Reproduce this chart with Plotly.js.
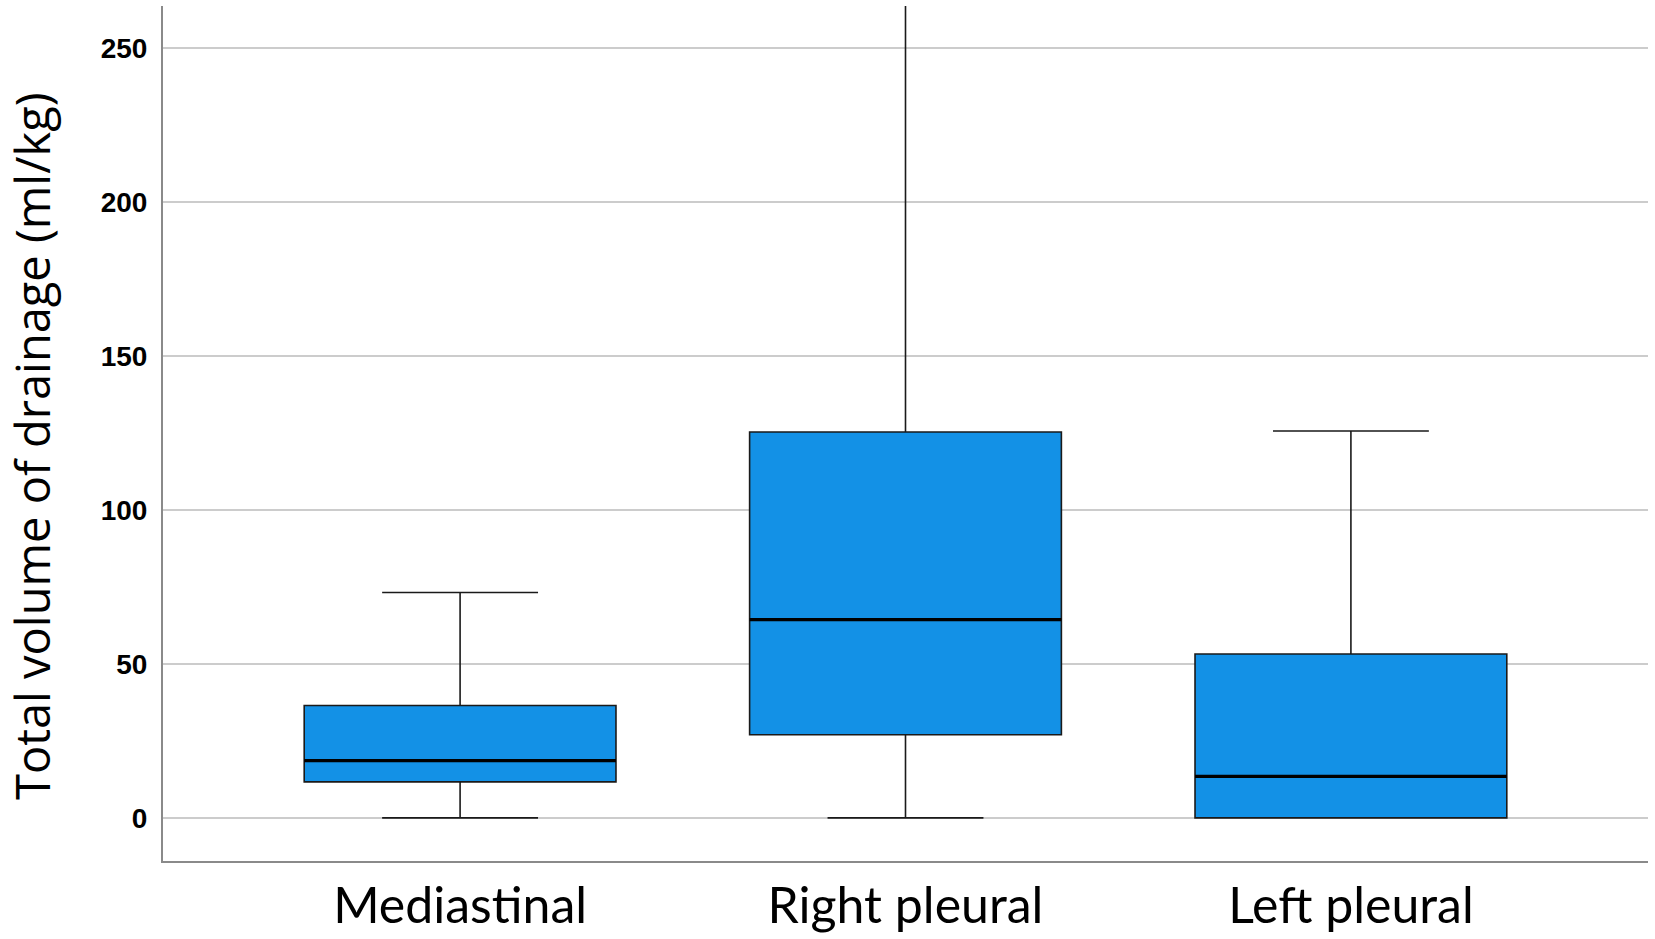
<!DOCTYPE html>
<html>
<head>
<meta charset="utf-8">
<script src="https://cdn.plot.ly/plotly-3.0.1.min.js"></script>
<style>html,body{margin:0;padding:0;background:#fff;}#chart{width:1655px;height:939px;}</style>
</head>
<body>
<div id="chart"></div>
<script>
// Data (ml/kg)
const categories = ["Mediastinal", "Right pleural", "Left pleural"];
const lowerWhisker = [0, 0, 0];
const q1Values = [11.7, 27.0, 0];
const medianValues = [18.6, 64.4, 13.5];
const q3Values = [36.5, 125.3, 53.2];
const upperWhisker = [73.2, 264.0, 125.6];
const yTickValues = [0, 50, 100, 150, 200, 250];
const yTickLabels = ["0", "50", "100", "150", "200", "250"];
const yTitle = "Total volume of drainage (ml/kg)";

const BOX_WIDTH = 0.7;
const traces = [];
categories.forEach((c, i) => {
  traces.push({
    type: "box",
    x: [i],
    q1: [q1Values[i]],
    median: [medianValues[i]],
    q3: [q3Values[i]],
    lowerfence: [lowerWhisker[i]],
    upperfence: [upperWhisker[i]],
    width: BOX_WIDTH,
    whiskerwidth: 0.5,
    fillcolor: "#1391E6",
    line: { color: "#1a1a1a", width: 1.6 },
    boxpoints: false,
    hoverinfo: "skip",
    showlegend: false
  });
});
// thicker median lines
categories.forEach((c, i) => {
  traces.push({
    type: "scatter",
    mode: "lines",
    x: [i - BOX_WIDTH / 2, i + BOX_WIDTH / 2],
    y: [medianValues[i], medianValues[i]],
    line: { color: "#000", width: 3.2 },
    hoverinfo: "skip",
    showlegend: false
  });
});

const layout = {
  width: 1655,
  height: 939,
  margin: { l: 163, r: 7, t: 6, b: 78 },
  paper_bgcolor: "#fff",
  plot_bgcolor: "#fff",
  showlegend: false,
  xaxis: {
    range: [-0.667, 2.667],
    tickvals: [0, 1, 2],
    ticktext: categories,
    showgrid: false,
    zeroline: false,
    showline: true,
    linecolor: "#8a8a8a",
    linewidth: 2,
    ticks: "",
    tickfont: { family: "Lato, 'Open Sans', sans-serif", size: 50, color: "#000" },
    fixedrange: true
  },
  yaxis: {
    range: [-14, 263.6],
    tickvals: yTickValues,
    ticktext: yTickLabels,
    showgrid: true,
    gridcolor: "#cccccc",
    gridwidth: 2,
    zeroline: false,
    showline: true,
    linecolor: "#8a8a8a",
    linewidth: 2,
    ticks: "",
    ticklabelstandoff: 8,
    tickfont: { family: "'Liberation Sans', Arial, sans-serif", size: 28, color: "#000", weight: "bold" },
    fixedrange: true
  },
  annotations: [{
    text: yTitle,
    textangle: -90,
    xref: "paper", yref: "paper",
    x: 0, y: 0.4854,
    xanchor: "center", yanchor: "middle",
    xshift: -131,
    showarrow: false,
    font: { family: "'Open Sans', sans-serif", size: 47, color: "#000" }
  }]
};

Plotly.newPlot("chart", traces, layout, { displayModeBar: false, staticPlot: true });
</script>
</body>
</html>
